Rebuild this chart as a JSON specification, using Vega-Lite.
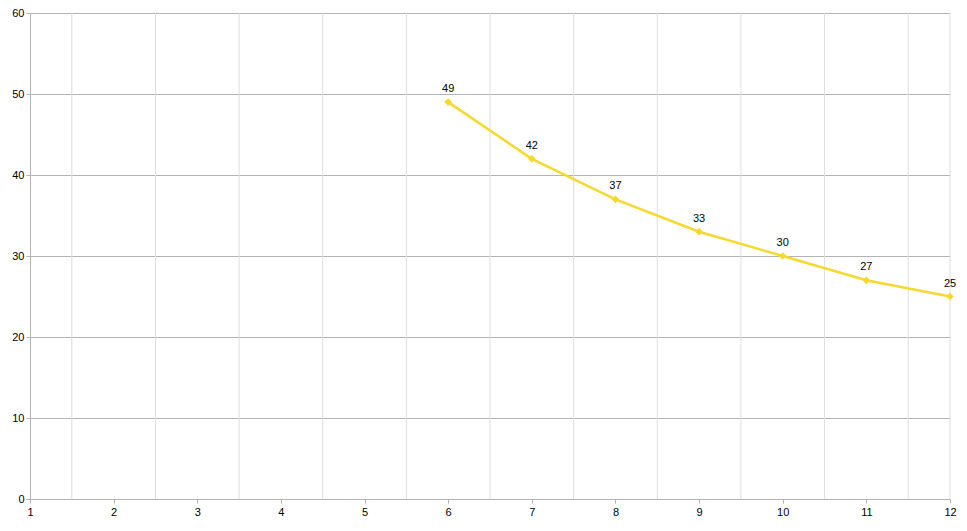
{
  "$schema": "https://vega.github.io/schema/vega-lite/v6.json",
  "width": 920,
  "height": 486,
  "autosize": {"type": "none"},
  "padding": {"left": 30, "top": 13, "right": 17, "bottom": 32},
  "background": "white",
  "config": {
    "view": {"stroke": null},
    "font": "Liberation Sans",
    "axis": {"labelFont": "Liberation Sans", "labelFontSize": 11, "labelColor": "#000000", "domainColor": "#b3b3b3", "tickColor": "#b3b3b3", "gridColor": "#b3b3b3", "domain": true}
  },
  "datasets": {
    "series": [
      {"x": 6, "y": 49},
      {"x": 7, "y": 42},
      {"x": 8, "y": 37},
      {"x": 9, "y": 33},
      {"x": 10, "y": 30},
      {"x": 11, "y": 27},
      {"x": 12, "y": 25}
    ],
    "vgrid": [
      {"x": 1.5}, {"x": 2.5}, {"x": 3.5}, {"x": 4.5}, {"x": 5.5}, {"x": 6.5},
      {"x": 7.5}, {"x": 8.5}, {"x": 9.5}, {"x": 10.5}, {"x": 11.5}, {"x": 12}
    ]
  },
  "layer": [
    {
      "data": {"name": "vgrid"},
      "mark": {"type": "rule", "color": "#dddddd", "strokeWidth": 1},
      "encoding": {
        "x": {"field": "x", "type": "quantitative", "title": null,
          "scale": {"domain": [1, 12], "nice": false, "zero": false},
          "axis": {"values": [1,2,3,4,5,6,7,8,9,10,11,12], "grid": false, "tickSize": 4, "labelPadding": 3, "format": "d", "domain": true, "labelFlush": false, "labelOverlap": false}}
      }
    },
    {
      "data": {"name": "series"},
      "mark": {"type": "line", "color": "#f7d92e", "strokeWidth": 2.5},
      "encoding": {
        "x": {"field": "x", "type": "quantitative", "scale": {"domain": [1, 12], "nice": false, "zero": false}},
        "y": {"field": "y", "type": "quantitative", "title": null,
          "scale": {"domain": [0, 60], "nice": false},
          "axis": {"values": [0,10,20,30,40,50,60], "grid": true, "tickSize": 4, "labelPadding": 2, "domain": true, "labelFlush": false}}
      }
    },
    {
      "data": {"name": "series"},
      "mark": {"type": "point", "shape": "diamond", "filled": true, "color": "#f7d92e", "size": 60, "opacity": 1},
      "encoding": {
        "x": {"field": "x", "type": "quantitative", "scale": {"domain": [1, 12], "nice": false, "zero": false}},
        "y": {"field": "y", "type": "quantitative", "scale": {"domain": [0, 60], "nice": false}}
      }
    },
    {
      "data": {"name": "series"},
      "mark": {"type": "text", "dy": -13, "fontSize": 11, "color": "#000000", "font": "Liberation Sans"},
      "encoding": {
        "x": {"field": "x", "type": "quantitative", "scale": {"domain": [1, 12], "nice": false, "zero": false}},
        "y": {"field": "y", "type": "quantitative", "scale": {"domain": [0, 60], "nice": false}},
        "text": {"field": "y", "type": "quantitative"}
      }
    }
  ]
}
